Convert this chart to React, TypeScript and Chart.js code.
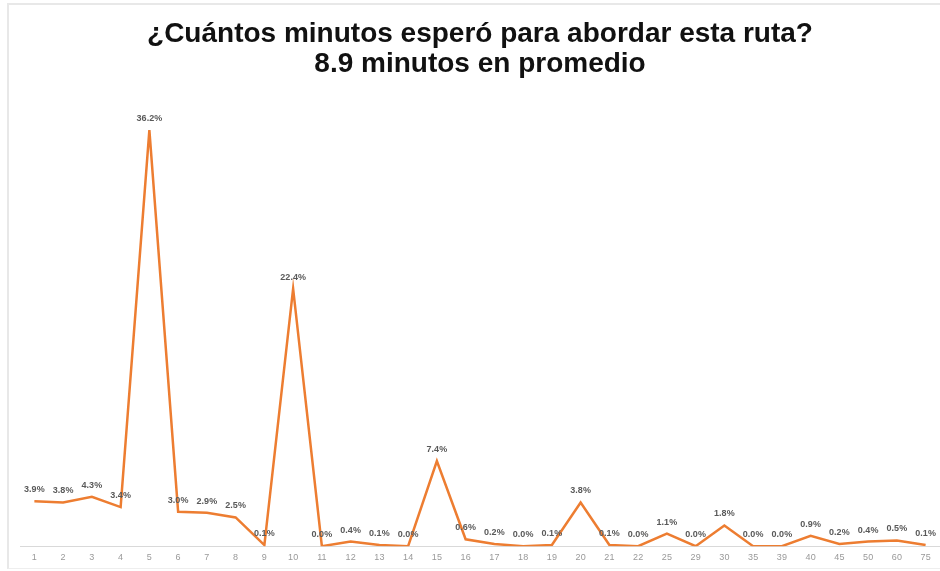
import React, { useEffect, useRef } from "react";
import { Chart, registerables } from "chart.js";

Chart.register(...registerables);

const categories = ["1","2","3","4","5","6","7","8","9","10","11","12","13","14","15","16","17","18","19","20","21","22","25","29","30","35","39","40","45","50","60","75"];
const values = [3.9,3.8,4.3,3.4,36.2,3.0,2.9,2.5,0.1,22.4,0.0,0.4,0.1,0.0,7.4,0.6,0.2,0.0,0.1,3.8,0.1,0.0,1.1,0.0,1.8,0.0,0.0,0.9,0.2,0.4,0.5,0.1];
const titleLines = ["¿Cuántos minutos esperó para abordar esta ruta?", "8.9 minutos en promedio"];

const labelPlugin = {
  id: "pointLabels",
  afterDatasetsDraw(chart: any) {
    const ctx = chart.ctx;
    const meta = chart.getDatasetMeta(0);
    ctx.save();
    ctx.font = "bold 9px 'Liberation Sans', Arial, sans-serif";
    ctx.fillStyle = "#595959";
    ctx.textAlign = "center";
    ctx.textBaseline = "bottom";
    meta.data.forEach((pt: any, i: number) => {
      ctx.fillText(values[i].toFixed(1) + "%", pt.x, pt.y - 7);
    });
    ctx.restore();
  },
};

export default function App() {
  const ref = useRef<HTMLCanvasElement>(null);
  useEffect(() => {
    document.body.style.margin = "0";
    const chart = new Chart(ref.current!, {
      type: "line",
      data: {
        labels: categories,
        datasets: [
          {
            data: values,
            borderColor: "#ED7D31",
            borderWidth: 2.5,
            pointRadius: 0,
            tension: 0,
            fill: false,
          },
        ],
      },
      options: {
        animation: false,
        responsive: false,
        layout: { padding: { left: 20, right: 0, top: 0, bottom: 2 } },
        plugins: {
          legend: { display: false },
          tooltip: { enabled: false },
          title: {
            display: true,
            text: titleLines,
            color: "#111111",
            font: { family: "'Liberation Sans', Arial, sans-serif", size: 28, weight: "bold", lineHeight: 1.05 },
            padding: { top: 20, bottom: 11 },
          },
        },
        scales: {
          x: {
            offset: true,
            grid: { display: false, drawTicks: false },
            border: { display: true, color: "#d9d9d9", width: 1 },
            ticks: { color: "#999999", font: { size: 9, family: "'Liberation Sans', Arial, sans-serif" }, padding: 6, maxRotation: 0, autoSkip: false },
          },
          y: {
            display: false,
            min: 0,
            max: 39.7,
          },
        },
      },
      plugins: [labelPlugin],
    });
    return () => chart.destroy();
  }, []);
  return (
    <div style={{ position: "relative", width: 940, height: 571, background: "#fff" }}>
      <canvas ref={ref} width={940} height={571} style={{ display: "block" }} />
      <div style={{ position: "absolute", left: 7, top: 3, right: 0, bottom: 2, borderLeft: "2px solid #e8e8e8", borderTop: "2px solid #e8e8e8", borderBottom: "1px solid #eeeeee", pointerEvents: "none" }} />
    </div>
  );
}
